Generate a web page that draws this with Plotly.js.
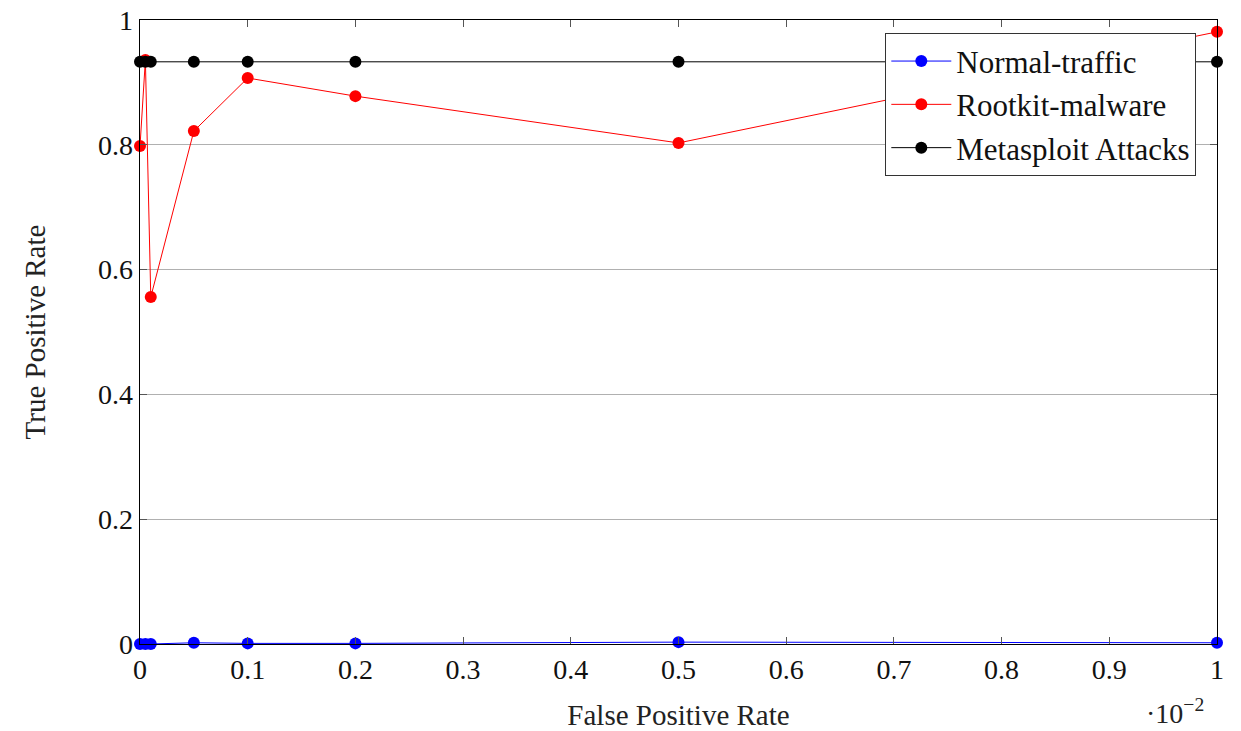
<!DOCTYPE html>
<html><head><meta charset="utf-8">
<script src="https://cdn.plot.ly/plotly-3.0.1.min.js"></script>
<style>body{margin:0;background:#fff}#chart{width:1241px;height:731px}</style>
</head><body><div id="chart"></div>
<script>
const fpr = [0, 0.005, 0.01, 0.05, 0.1, 0.2, 0.5, 1];
const normalTraffic = [0, 0, 0, 0.002, 0.001, 0.001, 0.003, 0.002];
const rootkitMalware = [0.798, 0.936, 0.556, 0.822, 0.907, 0.878, 0.803, 0.981];
const metasploit = [0.933, 0.933, 0.933, 0.933, 0.933, 0.933, 0.933, 0.933];
const seriesNames = ['Normal-traffic', 'Rootkit-malware', 'Metasploit Attacks'];
const xTicks = [0, 0.1, 0.2, 0.3, 0.4, 0.5, 0.6, 0.7, 0.8, 0.9, 1];
const yTicks = [0, 0.2, 0.4, 0.6, 0.8, 1];

const FONT = 'Liberation Serif, DejaVu Serif, serif';
function tr(y, name, color) {
  return {x: fpr, y: y, name: name, type: 'scatter', mode: 'lines+markers',
    line: {color: color, width: 1}, marker: {color: color, size: 12},
    cliponaxis: false};
}
const data = [
  tr(normalTraffic, seriesNames[0], '#0000ff'),
  tr(rootkitMalware, seriesNames[1], '#ff0000'),
  tr(metasploit, seriesNames[2], '#000000')
];
const axisCommon = {showline: true, mirror: 'ticks', linecolor: '#000', linewidth: 1.3,
  ticks: 'inside', ticklen: 7, tickcolor: '#555', zeroline: false,
  tickfont: {family: FONT, size: 28, color: '#111'}};
const layout = {
  width: 1241, height: 731,
  margin: {l: 140, r: 24, t: 20, b: 87},
  paper_bgcolor: '#fff', plot_bgcolor: '#fff',
  font: {family: FONT, color: '#000'},
  showlegend: true,
  legend: {x: 0.9805, y: 0.979, xanchor: 'right', yanchor: 'top',
    bgcolor: '#fff', bordercolor: '#333', borderwidth: 1.3,
    font: {family: FONT, size: 31, color: '#111'}, tracegroupgap: 0, itemwidth: 60},
  xaxis: Object.assign({}, axisCommon, {range: [0, 1], tickvals: xTicks,
    ticktext: xTicks.map(String), showgrid: false,
    title: {text: 'False Positive Rate', font: {family: FONT, size: 29, color: '#222'}, standoff: 22}}),
  yaxis: Object.assign({}, axisCommon, {range: [0, 1], tickvals: yTicks,
    ticktext: yTicks.map(String), showgrid: true, gridcolor: '#b0b0b0', gridwidth: 1,
    title: {text: 'True Positive Rate', font: {family: FONT, size: 29, color: '#222'}, standoff: 44}}),
  annotations: [{xref: 'paper', yref: 'paper', x: 0.961, y: -0.077, xanchor: 'center', yanchor: 'top',
    showarrow: false, text: '·10<sup>−2</sup>', font: {family: FONT, size: 28, color: '#222'}}]
};
Plotly.newPlot('chart', data, layout, {displayModeBar: false, staticPlot: true});
</script></body></html>
